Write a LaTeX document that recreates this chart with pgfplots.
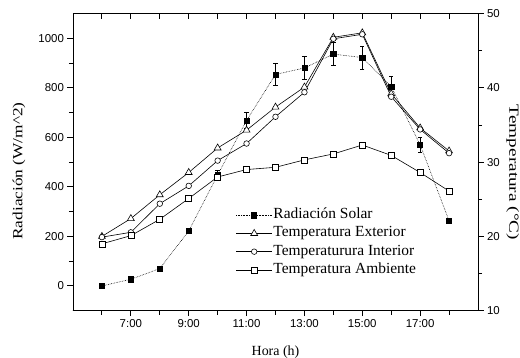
\documentclass[border=0pt]{standalone}
\usepackage{fontspec}
\setmainfont{Liberation Serif}
\newfontfamily\ticksfont{Liberation Sans}
\usepackage{pgfplots}
\pgfplotsset{compat=1.18}
\pgfplotsset{
  common/.style={
    at={(0,0)}, anchor=south west,
    scale only axis, width=405bp, height=297.2bp,
    xmin=5, xmax=19,
    xtick={7,9,...,17}, minor xtick={6,8,...,18},
    major tick length=5.5bp, minor tick length=4bp,
    tick style={black, line width=0.9pt},
    axis line style={line width=0.8pt},
    ticklabel style={font=\ticksfont\fontsize{11.5}{13}\selectfont},
    /pgf/number format/assume math mode=true,
    /pgf/number format/1000 sep={},
    label style={font=\fontsize{14}{16}\selectfont},
  },
}
\begin{document}
\begin{tikzpicture}
% Radiation axis (left)
\begin{axis}[common,
  ymin=-100, ymax=1100,
  ytick={0,200,...,1000}, minor ytick={100,300,500,700,900},
  xtick pos=bottom, ytick pos=left, tick align=outside,
  xticklabels={7:00,9:00,11:00,13:00,15:00,17:00},
  xlabel={Hora (h)},
  xlabel style={at={(axis description cs:0.5,-0.139)}, anchor=center},
  ylabel={\scalebox{1.24}[1]{Radiación (W/m\^{}2)}},
  ylabel style={at={(axis description cs:-0.133,0.47)}, anchor=center},
]
\addplot[black, densely dotted, line width=0.6pt, mark=square*, mark size=2.6pt,
  mark options={solid},
  error bars/.cd, y dir=both, y explicit,
  error bar style={solid, line width=0.6pt},
  error mark=-,
  error mark options={solid, rotate=90, mark size=2.2pt, line width=0.6pt}]
coordinates {
 (6,0) +- (0,0)
 (7,27) +- (0,0)
 (8,70) +- (0,0)
 (9,222) +- (0,0)
 (10,448) +- (0,18)
 (11,668) +- (0,32)
 (12,854) +- (0,43)
 (13,880) +- (0,46)
 (14,936) +- (0,46)
 (15,922) +- (0,46)
 (16,805) +- (0,40)
 (17,570) +- (0,29)
 (18,263) +- (0,0)
};
\end{axis}
% Temperature axis (right)
\begin{axis}[common,
  hide x axis,
  ymin=10, ymax=50,
  ytick={10,20,...,50}, minor ytick={15,25,35,45},
  ytick pos=right, yticklabel pos=right, tick align=outside,
  ylabel={\scalebox{1.38}[1]{Temperatura (°C)}},
  ylabel style={at={(axis description cs:1.086,0.465)}, anchor=center, rotate=180},
  legend style={at={(axis description cs:0.4017,0.347)}, anchor=north west,
    draw=none, fill=none, inner sep=0pt, row sep=3.2bp,
    font=\fontsize{15.5}{17}\selectfont,
    nodes={inner sep=1bp, text height=10bp, text depth=3bp}},
  legend cell align=left,
  legend image code/.code={\draw[mark repeat=2,mark phase=2,#1] plot coordinates {(0bp,0bp) (18bp,0bp) (36bp,0bp)};},
]
\addlegendimage{black, densely dotted, line width=0.6pt, mark=square*, mark size=2.6pt, mark options={solid}}
\addlegendentry{Radiación Solar}
\addplot[black, line width=0.6pt, mark=triangle*, mark size=4pt, mark options={fill=white}]
coordinates {(6,20.0) (7,22.4) (8,25.6) (9,28.6) (10,31.9) (11,34.3) (12,37.4) (13,40.1) (14,46.8) (15,47.4) (16,39.2) (17,34.6) (18,31.5)};
\addlegendentry{Temperatura Exterior}
\addplot[black, line width=0.6pt, mark=*, mark size=2.8pt, mark options={fill=white}]
coordinates {(6,19.9) (7,20.55) (8,24.4) (9,26.8) (10,30.2) (11,32.5) (12,36.1) (13,39.4) (14,46.6) (15,47.2) (16,38.8) (17,34.4) (18,31.2)};
\addlegendentry{Temperaturura Interior}
\addplot[black, line width=0.6pt, mark=square*, mark size=3pt, mark options={fill=white}]
coordinates {(6,19.0) (7,20.1) (8,22.3) (9,25.1) (10,28.0) (11,29.0) (12,29.3) (13,30.3) (14,31.1) (15,32.3) (16,30.9) (17,28.6) (18,26.1)};
\addlegendentry{Temperatura Ambiente}
\end{axis}
% Top ticks (inside)
\begin{axis}[common,
  hide y axis, ymin=0, ymax=1,
  xtick pos=top, tick align=inside, xticklabels={},
  major tick length=5.5bp, minor tick length=5.5bp,
]
\end{axis}
\pgfresetboundingbox
\path[use as bounding box] (-73bp,-47.3bp) rectangle (447bp,310.7bp);
\end{tikzpicture}
\end{document}
